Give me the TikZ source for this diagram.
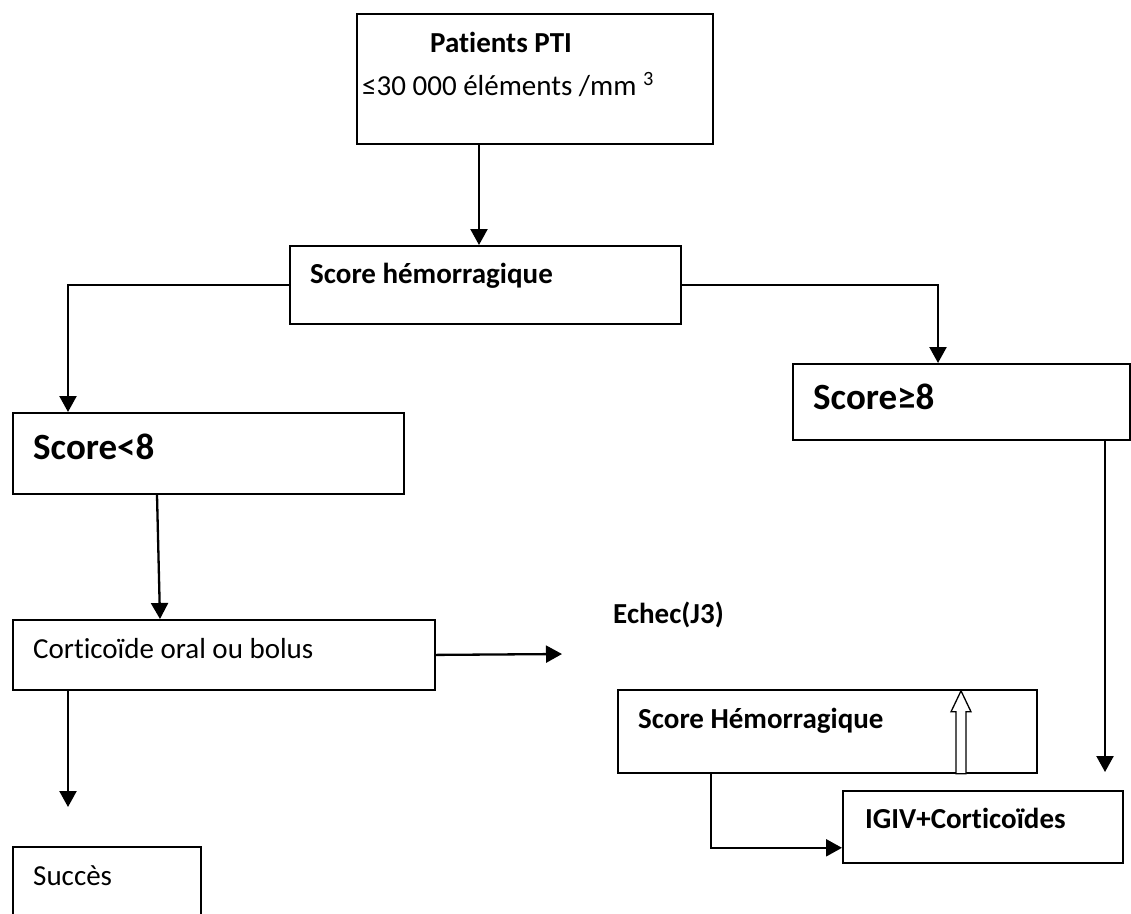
\documentclass[tikz,border=0pt]{standalone}
\usepackage{fontspec}
\setmainfont{Carlito}[Ligatures=NoCommon]
\usepackage{tikz}
\usetikzlibrary{calc,arrows.meta}
\tikzset{
  box/.style={draw, line width=1.8pt, inner sep=0pt, anchor=north west},
  arr/.style={line width=2.3pt, -{Triangle[length=16pt,width=17pt]}},
  lbl/.style={anchor=base west, inner sep=0pt, font=\fontsize{29}{35}\selectfont},
  lblb/.style={lbl, font=\fontsize{29}{35}\selectfont\bfseries},
  lblbig/.style={lbl, font=\fontsize{37}{44}\selectfont\bfseries},
}

\begin{document}
\begin{tikzpicture}[x=1pt,y=-1pt]
		%%%%% START %%%%%
		\useasboundingbox (0,0) rectangle (1131,913);
		\clip (0,0) rectangle (1131,913);
		
		% boxes
		\node[box, minimum width=356pt, minimum height=130pt] (pti) at (356,13) {};
		\node[box, minimum width=391pt, minimum height=78pt] (hem) at (289,245) {};
		\node[box, minimum width=391pt, minimum height=81pt] (low) at (12,412) {};
		\node[box, minimum width=337pt, minimum height=76pt] (high) at (792,363) {};
		\node[box, minimum width=422pt, minimum height=70pt] (cort) at (12,619) {};
		\node[box, minimum width=188pt, minimum height=90pt] (succ) at (12,846) {};
		\node[box, minimum width=419pt, minimum height=83pt] (hem2) at (617,689) {};
		\node[box, minimum width=280pt, minimum height=72pt] (igiv) at (842,790) {};
		
		% texts
		\node[lblb] (ptitxt) at (430,52) {Patients PTI};
		\node[lbl] (seuil) at (362,95) {≤30 000 éléments /mm \textsuperscript{3}};
		\node[lblb] (hemtxt) at (310,283) {Score hémorragique};
		\node[lblbig] (lowtxt) at (33,459) {Score<8};
		\node[lblbig] (hightxt) at (813,409) {Score≥8};
		\node[lbl] (corttxt) at (33,658) {Corticoïde oral ou bolus};
		\node[lblb] (echec) at (613,623) {Echec(J3)};
		\node[lblb] (hem2txt) at (638,728) {Score Hémorragique};
		\node[lblb] (igivtxt) at (865,828) {IGIV+Corticoïdes};
		\node[lbl] (succtxt) at (33,885) {Succès};
		
		% free ends
		\coordinate (fail) at (562,654);
		\coordinate (okend) at (68,807);
		\coordinate (igivend) at (1105,772);
		
		% arrows
		\draw[arr] ($(pti.south west)+(123,0)$) -- ($(hem.north west)+(190,0)$);
		\draw[arr] (hem.west) -| ($(low.north west)+(56,0)$);
		\draw[arr] (hem.east) -| ($(high.north west)+(146,0)$);
		\draw[arr] ($(low.south west)+(145,0)$) -- ($(cort.north west)+(148,0)$);
		\draw[arr] (cort.east) -- (fail);
		\draw[arr] ($(cort.south west)+(56,0)$) -- (okend);
		\draw[arr] ($(high.south west)+(313,0)$) -- (igivend);
		\draw[arr] ($(hem2.south west)+(94,0)$) |- ($(igiv.south west)+(0,-16)$);
		
		% hollow arrow
		\draw[line width=1.3pt, fill=white] ($(hem2.south west)+(339,0)$) -- ++(0,-62) -- ++(-5,0)
			-- ++(10,-21) -- ++(10,21) -- ++(-5,0) -- ++(0,62) -- cycle;
		
		%%%%% END %%%%%
\end{tikzpicture}
\end{document}
